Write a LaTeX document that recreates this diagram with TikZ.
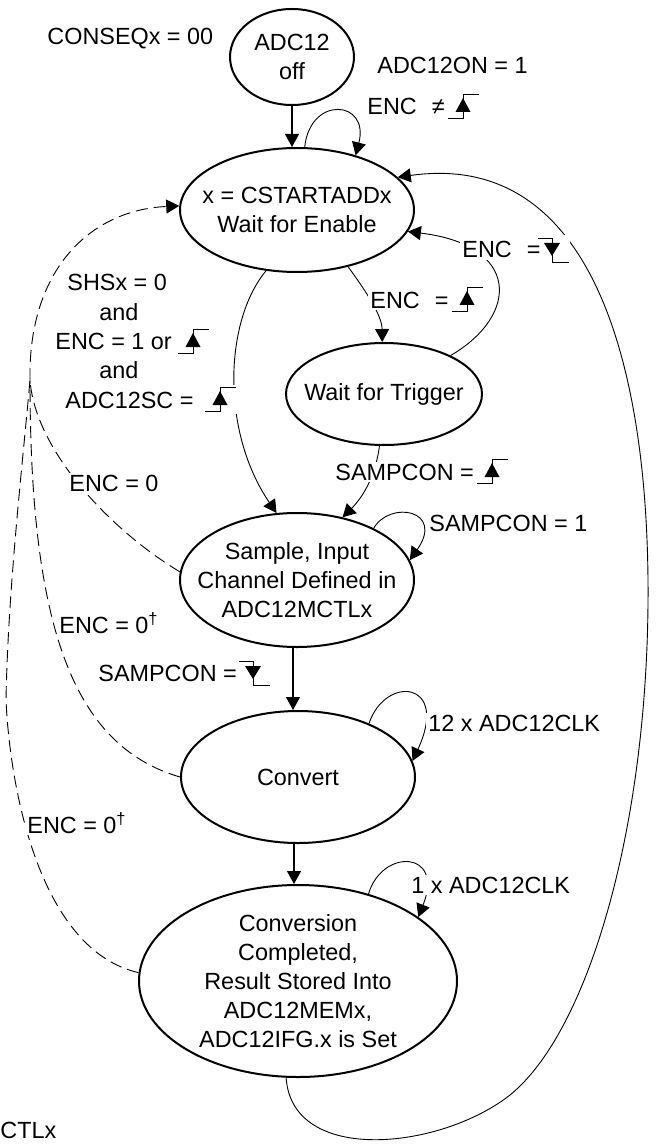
\documentclass[tikz,border=0pt]{standalone}
\usepackage{fontspec}
\setmainfont{Liberation Sans}
\usetikzlibrary{arrows.meta,shapes.geometric}
\newcommand{\diagfont}{\fontsize{11.7}{14.5}\selectfont}
\tikzset{
  risesym/.pic={
    \fill[white] (2,-23) rectangle (32,6);
    \draw[line width=0.4pt] (0,3) -- (15,3) -- (15,-21) -- (31,-21);
    \fill (15,-17) -- (7.5,-3) -- (22.5,-3) -- cycle;
  },
  fallsym/.pic={
    \fill[white] (2,-23) rectangle (32,7);
    \draw[line width=0.4pt] (0,-20) -- (14,-20) -- (14,4) -- (31,4);
    \fill (6,-15) -- (22,-15) -- (14,-2) -- cycle;
  }
}
\begin{document}
\begin{tikzpicture}[x=0.5pt,y=-0.5pt,
  state/.style={draw,ellipse,line width=1pt,inner xsep=-60pt,inner ysep=-30pt,align=center,font=\diagfont},
  lbl/.style={inner sep=1pt,fill=white,font=\diagfont,anchor=base west},
  tip/.style={-{Triangle[length=6.5pt,width=7pt]}},
  edge/.style={line width=0.45pt},
  vedge/.style={line width=0.6pt},
  dedge/.style={line width=0.45pt,dash pattern=on 6pt off 3pt}]
\useasboundingbox (0,0) rectangle (655,1144);

% states
\node[state,minimum width=62pt,minimum height=48pt] (off) at (292,57) {ADC12\\off};
\node[state,minimum width=117pt,minimum height=62pt] (wfe) at (297,210) {x = CSTARTADDx\\Wait for Enable};
\node[state,minimum width=98pt,minimum height=51pt] (wft) at (384,394) {Wait for Trigger};
\node[state,minimum width=117pt,minimum height=67pt] (smp) at (297,580) {Sample, Input\\Channel Defined in\\ADC12MCTLx};
\node[state,minimum width=117pt,minimum height=66pt] (cnv) at (298,777) {Convert};
\node[state,minimum width=159pt,minimum height=96pt] (cc) at (298,981) {Conversion\\Completed,\\Result Stored Into\\ADC12MEMx,\\ADC12IFG.x is Set};

\coordinate (m) at (30,380);

% straight transitions
\draw[vedge,tip] (off.south) -- (off.south |- wfe.north);
\draw[vedge,tip] ([xshift=-2pt]smp.south) -- ([xshift=-2pt]smp.south |- cnv.north);
\draw[vedge,tip] ([xshift=-2pt]cnv.south) -- ([xshift=-2pt]cnv.south |- cc.north);

% self loops
\draw[edge,tip] (wfe.83) .. controls (310,95) and (370,100) .. (wfe.43);
\draw[edge,tip] (smp.34) .. controls (390,500) and (445,510) .. (smp.10);
\draw[edge,tip] (cnv.37) .. controls (385,675) and (450,680) .. (cnv.8);
\draw[edge,tip] (cc.51) .. controls (382,848) and (445,850) .. (cc.28);

% dashed returns to wait for enable
\draw[dedge,tip] (m) .. controls (28,270) and (90,210) .. (wfe.178);
\draw[dedge] (smp.176) .. controls (110,530) and (35,450) .. (m);
\draw[dedge] (cnv.180) .. controls (70,745) and (30,620) .. (m);
\draw[dedge] (cc.177) .. controls (40,950) and (10,790) .. (6,700) .. controls (8,590) and (22,470) .. (m);

% big return curve
\draw[edge,tip] (cc.263) .. controls (292,1165) and (440,1150) .. (510,1095)
   .. controls (590,1030) and (650,820) .. (648,580)
   .. controls (646,360) and (590,150) .. (wfe.18);

% other transitions
\draw[edge,tip] (wfe.-48) .. controls (365,290) and (382,315) .. (wft.92);
\draw[edge,tip] (wft.30) .. controls (520,315) and (520,245) .. (wfe.-11);
\draw[edge,tip] (wft.265) .. controls (375,480) and (360,500) .. (smp.54);
\draw[edge,tip] (wfe.243) .. controls (225,320) and (220,430) .. (smp.107);

% labels
\node[lbl] (l1) at (45,45) {CONSEQx = 00};
\node[lbl] (l2) at (375,74) {ADC12ON = 1};
\node[lbl] (l3) at (365,115) {ENC\hspace{7.5pt}≠}; \pic at (448,115) {risesym};
\node[lbl] (l4) at (460,258) {ENC\hspace{7.5pt}=}; \pic at (538,258) {fallsym};
\node[lbl] (l5) at (368,308) {ENC\hspace{7.5pt}=}; \pic at (452,308) {risesym};
\node[lbl] (l6) at (65,291) {SHSx = 0};
\node[lbl] (l7) at (97,321) {and};
\node[lbl] (l8) at (53,350) {ENC = 1 or}; \pic at (178,350) {risesym};
\node[lbl] (l9) at (97,379) {and};
\node[lbl] (l10) at (63,408) {ADC12SC =}; \pic at (205,408) {risesym};
\node[lbl] (l11) at (67,491) {ENC = 0};
\node[lbl] (l12) at (333,480) {SAMPCON =}; \pic at (477,480) {risesym};
\node[lbl] (l13) at (427,531) {SAMPCON = 1};
\node[lbl] (l14) at (57,633) {ENC = 0\textsuperscript{†}};
\node[lbl] (l15) at (96,681) {SAMPCON =}; \pic at (239,681) {fallsym};
\node[lbl] (l16) at (426,731) {12 x ADC12CLK};
\node[lbl] (l17) at (25,833) {ENC = 0\textsuperscript{†}};
\node[lbl] (l18) at (409,893) {1 x ADC12CLK};
\node[lbl,inner sep=0pt] (l19) at (0,1138) {CTLx};
\end{tikzpicture}
\end{document}
